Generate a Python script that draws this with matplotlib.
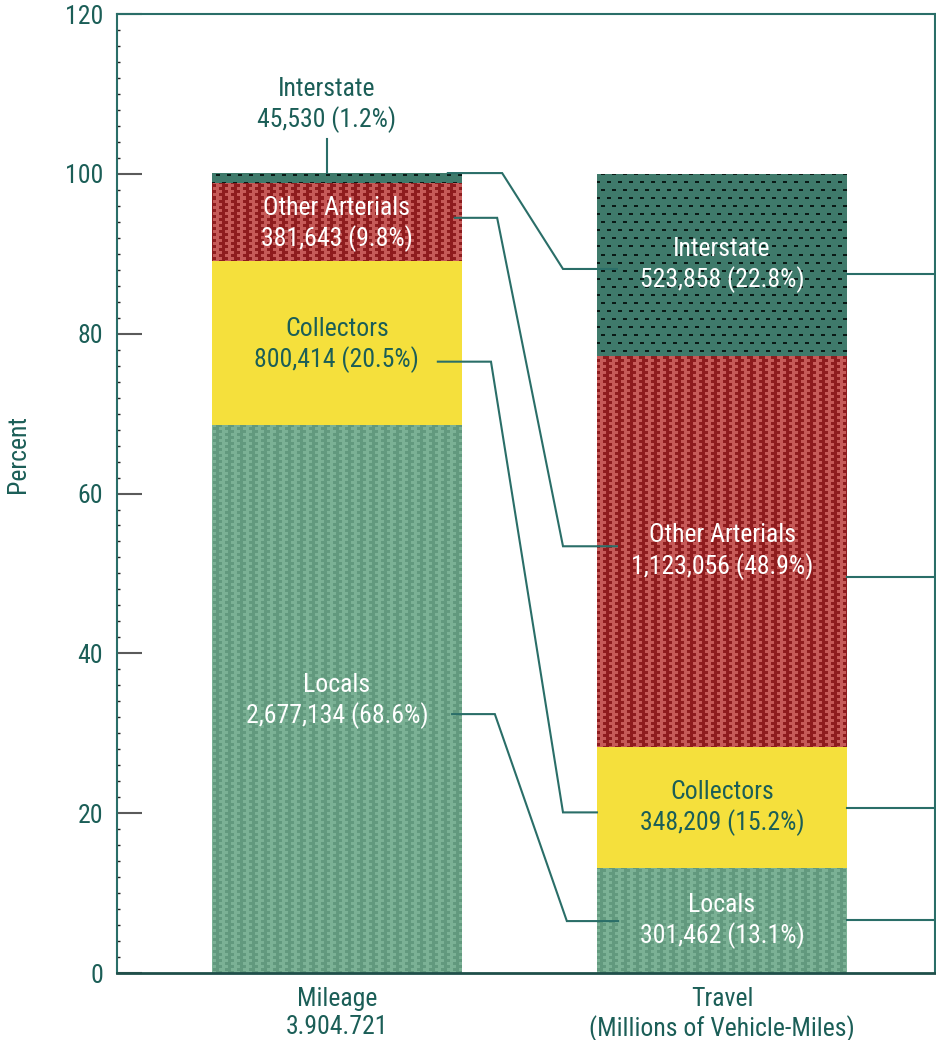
import numpy as np
import matplotlib
matplotlib.use("Agg")
import matplotlib.pyplot as plt

plt.rcParams["font.family"] = ["Roboto Condensed", "Archivo Narrow", "Liberation Sans", "DejaVu Sans"]

# functional system shares of mileage and travel
categories = ["Locals", "Collectors", "Other Arterials", "Interstate"]
mileage = [2677134, 800414, 381643, 45530]
mileage_pct = [68.6, 20.5, 9.8, 1.2]
travel = [301462, 348209, 1123056, 523858]
travel_pct = [13.1, 15.2, 48.9, 22.8]
group_labels = ["Mileage\n3.904.721", "Travel\n(Millions of Vehicle-Miles)"]

TEAL = "#1b5e57"
LINE = "#2a6e68"
faces = {"Locals": "#7bb195", "Collectors": "#f5e03c",
         "Other Arterials": "#8e1c1e", "Interstate": "#3f7a6b"}
label_colors = {"Locals": "white", "Collectors": TEAL,
                "Other Arterials": "white", "Interstate": "white"}
FS = 18.5

fig = plt.figure(figsize=(9.37, 10.4), dpi=100)
ax = fig.add_axes([0.1249, 0.0644, 0.873, 0.9221])
xlim = (-0.571, 1.553)
ax.set_xlim(*xlim)
ax.set_ylim(0, 120)

# pixel textures for the hatched fills
H, W = 959, 818
yy, xx = np.mgrid[0:H, 0:W]
row = yy // 3
col = (xx + (row % 2) * 3) // 6
brick = (row + col) % 2 == 0


def texture(base, accent, mask):
    img = np.empty((H, W, 3))
    img[:] = matplotlib.colors.to_rgb(base)
    img[mask] = matplotlib.colors.to_rgb(accent)
    return img


dash = (yy % 8 < 2) & (((xx + ((yy // 8) % 2) * 5) % 11) < 4)
textures = {
    "Locals": texture("#7bb195", "#62997e", brick),
    "Other Arterials": texture("#8e1c1e", "#c65a58", brick),
    "Interstate": texture("#3f7a6b", "#0a1a16", dash),
}

positions = [0, 1]
width = 0.649
stacks = [mileage_pct, travel_pct]
mids = []
for pos, pcts in zip(positions, stacks):
    bottoms = np.concatenate([[0], np.cumsum(pcts)[:-1]])
    bars = ax.bar([pos] * len(pcts), pcts, width=width, bottom=bottoms,
                  color=[faces[c] for c in categories], linewidth=0, zorder=2)
    for cat, bar in zip(categories, bars):
        if cat in textures:
            im = ax.imshow(textures[cat], extent=(xlim[0], xlim[1], 0, 120),
                           aspect="auto", interpolation="nearest", zorder=2.5)
            im.set_clip_path(bar)
    mids.append(bottoms + np.array(pcts) / 2)

# segment labels
for i, cat in enumerate(categories):
    txt = f"{cat}\n{mileage[i]:,} ({mileage_pct[i]}%)"
    if cat == "Interstate":
        ax.text(positions[0] - 0.026, 108.6, txt, ha="center", va="center",
                color=TEAL, fontsize=FS, linespacing=1.25, zorder=5)
    else:
        ax.text(positions[0], mids[0][i] - 0.3, txt, ha="center", va="center",
                color=label_colors[cat], fontsize=FS, linespacing=1.25, zorder=5)
    txt = f"{cat}\n{travel[i]:,} ({travel_pct[i]}%)"
    ax.text(positions[1], mids[1][i], txt, ha="center", va="center",
            color=label_colors[cat], fontsize=FS, linespacing=1.25, zorder=5)

# leader from the thin interstate slice up to its label
top_left = sum(mileage_pct)
ax.plot([-0.026, -0.026], [top_left, 104.4], color=LINE, lw=1.5, zorder=4)

# connectors linking matching segments of the two bars
left_off = [-1.9, -2.35, 0.5, None]
right_off = [-0.05, -0.6, 0.65, -0.5]
xs = {"Locals": (0.299, 0.41, 0.597, 0.73),
      "Collectors": (0.262, 0.40, 0.587, 0.675),
      "Other Arterials": (0.306, 0.416, 0.587, 0.727),
      "Interstate": (0.288, 0.429, 0.587, 0.727)}
for i, cat in enumerate(categories):
    y0 = top_left if left_off[i] is None else mids[0][i] + left_off[i]
    y1 = mids[1][i] + right_off[i]
    x0, x1, x2, x3 = xs[cat]
    ax.plot([x0, x1, x2, x3], [y0, y0, y1, y1], color=LINE, lw=1.5,
            solid_joinstyle="miter", zorder=4)

# ticks out to the right frame
edge_off = [0.05, -0.1, -3.25, -1.1]
for i, cat in enumerate(categories):
    y = mids[1][i] + edge_off[i]
    ax.plot([positions[1] + width / 2, xlim[1]], [y, y], color=LINE, lw=1.5,
            zorder=4, clip_on=False)

ax.set_yticks(range(0, 121, 20))
ax.set_yticks(range(0, 121, 2), minor=True)
ax.tick_params(axis="y", which="major", direction="in", length=18, width=1.5,
               color="#5a5a5a", labelcolor=TEAL, labelsize=FS, pad=10)
ax.tick_params(axis="y", which="minor", direction="in", length=2, width=1,
               color="#222222")
ax.set_xticks(positions)
ax.set_xticklabels(group_labels)
ax.tick_params(axis="x", length=0, labelcolor=TEAL, labelsize=FS, pad=10)

ax.set_ylabel("Percent", color=TEAL, fontsize=FS)
ax.yaxis.set_label_coords(-0.107, 0.541)

for side in ["left", "right", "top"]:
    ax.spines[side].set_color(LINE)
    ax.spines[side].set_linewidth(1.5)
ax.spines["bottom"].set_color("#1f4f4a")
ax.spines["bottom"].set_linewidth(2)

fig.savefig("out.png", dpi=100)
